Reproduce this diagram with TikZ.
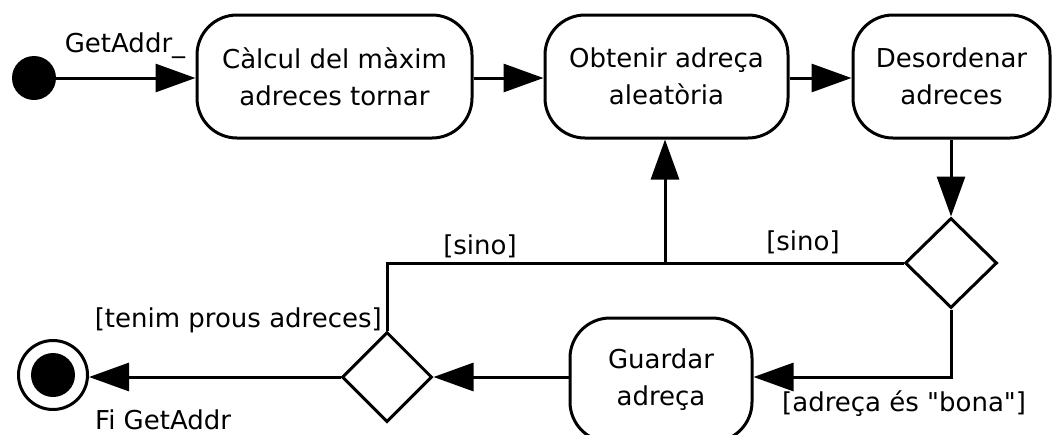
\documentclass[tikz,border=0pt]{standalone}
\usepackage{fontspec}
\setmainfont{DejaVu Sans}
\usetikzlibrary{arrows.meta,shapes.geometric}
\begin{document}
\begin{tikzpicture}[x=1pt,y=-1pt,
  every node/.style={font=\fontsize{26}{37}\selectfont},
  action/.style={draw,line width=3pt,rounded corners=40pt,align=center,inner sep=0pt},
  choice/.style={draw,line width=3pt,diamond,inner sep=0pt,minimum width=92pt,minimum height=90pt},
  flow/.style={line width=3pt,-{Triangle[length=40pt,width=28pt]}},
  plain/.style={line width=3pt},
  guard/.style={inner sep=0pt}]
\useasboundingbox (0,0) rectangle (1054,434);
\clip (0,0) rectangle (1054,434);

% start and end states
\node[circle,fill=black,minimum size=44pt,inner sep=0pt] (start) at (34,78) {};
\node[circle,draw,line width=3pt,minimum size=69pt,inner sep=0pt] (finish) at (53,375) {};
\node[circle,fill=black,minimum size=44pt,inner sep=0pt] (finishdot) at (finish.center) {};

% actions
\node[action,minimum width=275pt,minimum height=123pt] (calc) at (334.5,76.5) {Càlcul del màxim\\adreces tornar};
\node[action,minimum width=243pt,minimum height=123pt] (get) at (666.5,76.5) {Obtenir adreça\\aleatòria};
\node[action,minimum width=197pt,minimum height=123pt] (shuffle) at (951.5,76.5) {Desordenar\\adreces};
\node[action,minimum width=182pt,minimum height=124pt] (save) at (661,380) {Guardar\\adreça};

% decisions
\node[choice] (good) at (951,263) {};
\node[choice,minimum width=90pt] (enough) at (387,377) {};

% merge point of the two loops back
\coordinate (merge) at (665,263);

% connectors
\draw[flow] (start) -- (calc.west |- start);
\draw[flow] (calc.east |- start) -- (get.west |- start);
\draw[flow] (get.east |- start) -- (shuffle.west |- start);
\draw[flow] (shuffle.south -| good.north) -- (good.north);
\draw[plain] (good.west) -- (merge);
\draw[plain] (enough.north) |- (merge);
\draw[flow] (merge) -- (merge |- get.south);
\draw[flow] (good.south) |- (save.east |- enough.east);
\draw[flow] (save.west |- enough.east) -- (enough.east);
\draw[flow] (enough.west) -- (finish.east |- enough.west);

% labels
\node[guard,anchor=base] (lstart) at (125,52) {GetAddr\_};
\node[guard,anchor=base] (lsino1) at (480,254) {[sino]};
\node[guard,anchor=base] (lsino2) at (803,250) {[sino]};
\node[guard,anchor=base east] (lenough) at (382,327) {[tenim prous adreces]};
\node[guard,anchor=base west] (lend) at (95,429) {Fi GetAddr};
\node[guard,anchor=base west] (lgood) at (782,411) {[adreça és \textquotedbl bona\textquotedbl]};
\end{tikzpicture}
\end{document}
